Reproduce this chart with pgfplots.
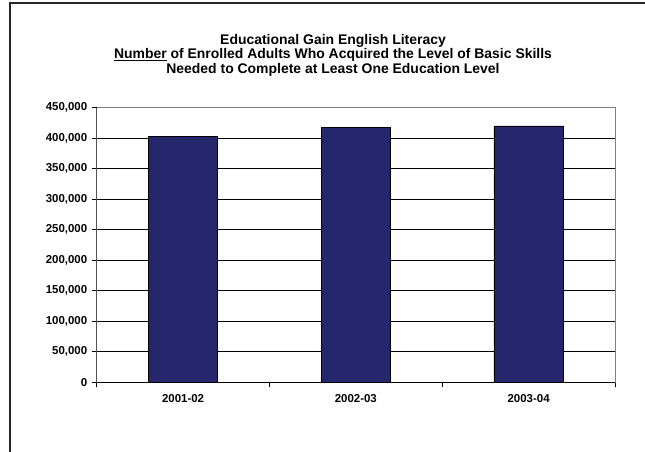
\documentclass[border=0pt]{standalone}
\usepackage{pgfplots}
\pgfplotsset{compat=1.18}
\usepackage{fontspec}
\setmainfont{Liberation Sans}
\definecolor{barnavy}{RGB}{38,38,108}
\begin{document}
\begin{tikzpicture}[x=1bp,y=1bp]
\useasboundingbox (0,0) rectangle (645,452);
\clip (0,0) rectangle (645,452);
\begin{axis}[
  at={(96.7bp,69.7bp)}, anchor=south west,
  scale only axis, width=518.3bp, height=274.6bp,
  xmin=0.5, xmax=3.5, ymin=0, ymax=450000,
  xtick={1,2,3}, xticklabels={2001-02,2002-03,2003-04},
  minor xtick={0.5,1.5,2.5,3.5},
  ytick={0,50000,...,400000},
  extra y ticks={450000}, extra y tick style={grid=none},
  ymajorgrids, grid style={black, line width=0.6bp},
  axis line style={gray, line width=0.8bp},
  tick pos=left, tick align=outside,
  major tick length=5bp, minor tick length=5bp,
  every tick/.style={black, line width=0.6bp},
  major x tick style={draw=none},
  scaled y ticks=false,
  /pgf/number format/.cd, fixed, 1000 sep={,}, assume math mode=true,
  /pgfplots/.cd,
  yticklabel style={font=\bfseries\fontsize{11.5}{13}\selectfont, xshift=-1bp},
  xticklabel style={font=\bfseries\fontsize{11.5}{13}\selectfont, yshift=-4bp},
  ybar, bar width=69.4bp,
]
\addplot[fill=barnavy, draw=black, line width=0.6bp] coordinates {(1,403000) (2,418000) (3,420000)};
\draw[black, line width=0.8bp] (axis cs:0.5,450000) -- (axis cs:0.5,0) -- (axis cs:3.5,0);
\end{axis}
\node[align=center, font=\bfseries\fontsize{14}{14.5}\selectfont] at (333,452-55)
  {Educational Gain English Literacy\\ \underline{Number} of Enrolled Adults Who Acquired the Level of Basic Skills\\ Needed to Complete at Least One Education Level};
\draw[black!85, line width=2bp] (9.5,-5) -- (9.5,449) -- (650,449);
\end{tikzpicture}
\end{document}
